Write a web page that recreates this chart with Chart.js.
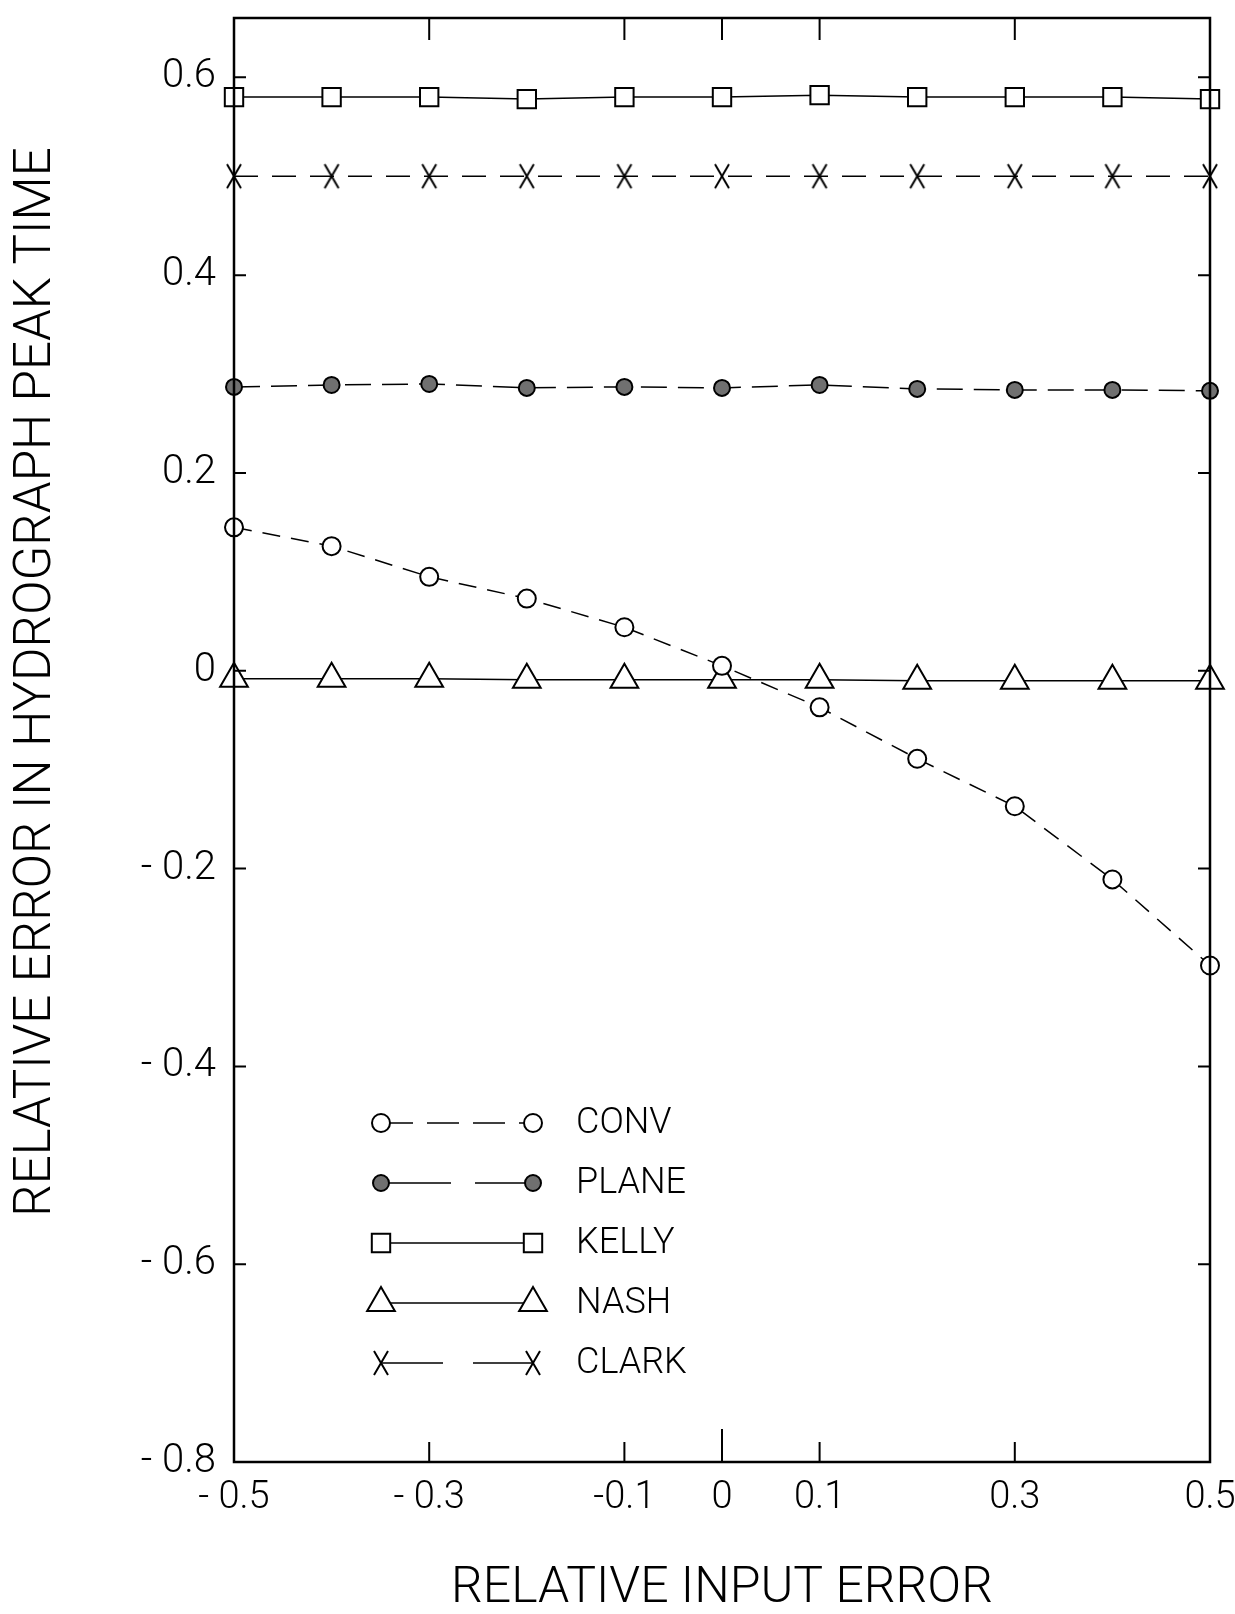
<!DOCTYPE html>
<html>
<head>
<meta charset="utf-8">
<script src="https://cdn.jsdelivr.net/npm/chart.js@4.4.0/dist/chart.umd.min.js"></script>
<style>
html,body{margin:0;padding:0;background:#fff;}
#wrap{width:1235px;height:1614px;position:relative;}
</style>
</head>
<body>
<div id="wrap"><canvas id="c" width="1235" height="1614"></canvas></div>
<script>
// ---- data ----
const inputError = [-0.5, -0.4, -0.3, -0.2, -0.1, 0, 0.1, 0.2, 0.3, 0.4, 0.5];
const convValues  = [0.145, 0.126, 0.095, 0.073, 0.044, 0.005, -0.037, -0.089, -0.137, -0.211, -0.298];
const planeValues = [0.287, 0.289, 0.290, 0.286, 0.287, 0.286, 0.289, 0.285, 0.284, 0.284, 0.283];
const kellyValues = [0.580, 0.580, 0.580, 0.578, 0.580, 0.580, 0.582, 0.580, 0.580, 0.580, 0.578];
const nashValues  = [-0.008, -0.008, -0.008, -0.009, -0.009, -0.009, -0.009, -0.010, -0.010, -0.010, -0.010];
const clarkValues = [0.500, 0.500, 0.500, 0.500, 0.500, 0.500, 0.500, 0.500, 0.500, 0.500, 0.500];
const seriesNames = ['CONV', 'PLANE', 'KELLY', 'NASH', 'CLARK'];
const xTickValues = [-0.5, -0.3, -0.1, 0, 0.1, 0.3, 0.5];
const xTickLabels = ['- 0.5', '- 0.3', '-0.1', '0', '0.1', '0.3', '0.5'];
const yTickValues = [-0.8, -0.6, -0.4, -0.2, 0, 0.2, 0.4, 0.6];
const yTickLabels = ['- 0.8', '- 0.6', '- 0.4', '- 0.2', '0', '0.2', '0.4', '0.6'];
const xTitle = 'RELATIVE INPUT ERROR';
const yTitle = 'RELATIVE ERROR IN HYDROGRAPH PEAK TIME';

const FONT = 'Roboto, "DejaVu Sans", sans-serif';

// tall X marker
function makeX(w, h) {
  const c = document.createElement('canvas');
  c.width = w; c.height = h;
  const g = c.getContext('2d');
  g.strokeStyle = '#000'; g.lineWidth = 2;
  g.beginPath();
  g.moveTo(2, 2); g.lineTo(w - 2, h - 2);
  g.moveTo(w - 2, 2); g.lineTo(2, h - 2);
  g.stroke();
  return c;
}
const xMark = makeX(18, 28);

function pts(vals) { return inputError.map((x, i) => ({x: x, y: vals[i]})); }

const styles = [
  {dash: [18, 11], legendDash: [32, 14], pointStyle: 'circle', radius: 9, fill: '#fff'},
  {dash: [26, 11], legendDash: [70, 24], pointStyle: 'circle', radius: 8, fill: '#707070'},
  {dash: [], legendDash: [], pointStyle: 'rect', radius: 13, fill: '#fff'},
  {dash: [], legendDash: [], pointStyle: 'triangle', radius: 16, fill: '#fff'},
  {dash: [24, 14], legendDash: [62, 30], pointStyle: xMark, radius: 10, fill: '#fff'}
];
const seriesValues = [convValues, planeValues, kellyValues, nashValues, clarkValues];

const datasets = seriesNames.map((name, i) => ({
  label: name,
  data: pts(seriesValues[i]),
  borderColor: '#000',
  borderWidth: 1.5,
  borderDash: styles[i].dash,
  pointStyle: styles[i].pointStyle,
  pointRadius: styles[i].radius,
  pointBorderWidth: 2,
  pointBorderColor: '#000',
  pointBackgroundColor: styles[i].fill,
  tension: 0,
  clip: false,
  legendDash: styles[i].legendDash
}));

function drawMarker(ctx, style, r, fill, x, y) {
  ctx.save();
  ctx.setLineDash([]);
  ctx.lineWidth = 2;
  ctx.strokeStyle = '#000';
  ctx.fillStyle = fill;
  ctx.beginPath();
  if (style === 'circle') {
    ctx.arc(x, y, r, 0, Math.PI * 2);
    ctx.fill(); ctx.stroke();
  } else if (style === 'rect') {
    const s = Math.SQRT1_2 * r;
    ctx.rect(x - s, y - s, 2 * s, 2 * s);
    ctx.fill(); ctx.stroke();
  } else if (style === 'triangle') {
    let a = 0;
    ctx.moveTo(x + Math.sin(a) * r, y - Math.cos(a) * r);
    a += 2 * Math.PI / 3;
    ctx.lineTo(x + Math.sin(a) * r, y - Math.cos(a) * r);
    a += 2 * Math.PI / 3;
    ctx.lineTo(x + Math.sin(a) * r, y - Math.cos(a) * r);
    ctx.closePath();
    ctx.fill(); ctx.stroke();
  } else {
    ctx.drawImage(style, x - style.width / 2, y - style.height / 2);
  }
  ctx.restore();
}

const framePlugin = {
  id: 'frame',
  afterDraw(chart) {
    const {ctx, chartArea: {left, right, top, bottom}, scales: {x, y}} = chart;
    ctx.save();
    ctx.strokeStyle = '#000';
    ctx.setLineDash([]);
    ctx.lineWidth = 2.5;
    ctx.strokeRect(left, top, right - left, bottom - top);
    ctx.lineWidth = 2;
    ctx.beginPath();
    yTickValues.forEach(v => {
      if (v === -0.8) return;
      const py = y.getPixelForValue(v);
      ctx.moveTo(left, py); ctx.lineTo(left + 12, py);
      ctx.moveTo(right, py); ctx.lineTo(right - 12, py);
    });
    xTickValues.forEach(v => {
      if (v === -0.5 || v === 0.5) return;
      const px = x.getPixelForValue(v);
      ctx.moveTo(px, bottom); ctx.lineTo(px, bottom - (v === 0 ? 33 : 20));
      ctx.moveTo(px, top); ctx.lineTo(px, top + 22);
    });
    ctx.stroke();

    // y axis title
    ctx.save();
    ctx.fillStyle = '#000';
    ctx.font = '300 51px ' + FONT;
    ctx.textAlign = 'center';
    ctx.textBaseline = 'middle';
    ctx.translate(37, 682);
    ctx.rotate(-Math.PI / 2);
    ctx.fillText(yTitle, 0, 0);
    ctx.restore();

    // legend
    const rowY0 = 1123, rowStep = 60, x1 = 381, x2 = 533, tx = 576;
    chart.data.datasets.forEach((ds, i) => {
      const st = styles[i];
      const ry = rowY0 + i * rowStep;
      ctx.save();
      ctx.lineWidth = 1.5;
      ctx.strokeStyle = '#000';
      ctx.setLineDash(ds.legendDash);
      ctx.beginPath();
      ctx.moveTo(x1, ry); ctx.lineTo(x2, ry);
      ctx.stroke();
      ctx.restore();
      drawMarker(ctx, st.pointStyle, st.radius, st.fill, x1, ry);
      drawMarker(ctx, st.pointStyle, st.radius, st.fill, x2, ry);
      ctx.fillStyle = '#000';
      ctx.font = '300 36px ' + FONT;
      ctx.textAlign = 'left';
      ctx.textBaseline = 'middle';
      ctx.fillText(ds.label, tx, ry + 1);
    });
    ctx.restore();
  }
};

new Chart(document.getElementById('c'), {
  type: 'line',
  data: {datasets: datasets},
  options: {
    responsive: false,
    animation: false,
    devicePixelRatio: 1,
    layout: {padding: {top: 17, right: 25, left: 0, bottom: 0}},
    plugins: {legend: {display: false}, tooltip: {enabled: false}},
    scales: {
      x: {
        type: 'linear',
        min: -0.5, max: 0.5,
        afterBuildTicks: s => { s.ticks = xTickValues.map(v => ({value: v})); },
        afterFit: s => { s.height = 152; s.paddingLeft = 0; s.paddingRight = 0; },
        grid: {display: false, drawTicks: false},
        border: {display: false},
        ticks: {
          autoSkip: false, maxRotation: 0, padding: 14, color: '#000',
          font: {family: FONT, size: 38, weight: '300'},
          callback: (v, i) => xTickLabels[i]
        },
        title: {
          display: true, text: xTitle, color: '#000',
          font: {family: FONT, size: 50, weight: '300', lineHeight: 1.0},
          padding: {top: 0, bottom: 0}
        }
      },
      y: {
        type: 'linear',
        min: -0.8, max: 0.66,
        afterBuildTicks: s => { s.ticks = yTickValues.map(v => ({value: v})); },
        afterFit: s => { s.width = 234; s.paddingTop = 0; s.paddingBottom = 0; },
        grid: {display: false, drawTicks: false},
        border: {display: false},
        ticks: {
          autoSkip: false, padding: 18, color: '#000',
          font: {family: FONT, size: 40, weight: '300'},
          callback: (v, i) => yTickLabels[i]
        }
      }
    }
  },
  plugins: [framePlugin]
});
</script>
</body>
</html>
